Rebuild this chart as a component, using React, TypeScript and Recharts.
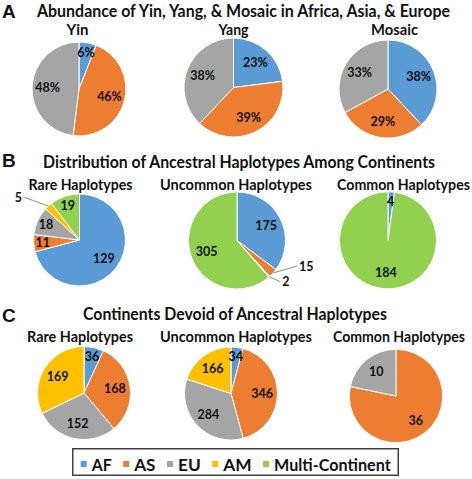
import React from 'react';
import { PieChart, Pie, Cell, Legend } from 'recharts';

// ---------- DATA ----------
const CONTINENTS = ['AF', 'AS', 'EU', 'AM', 'Multi-Continent'];

const PANEL_A_CATEGORIES = ['AF', 'AS', 'EU'];
const YIN_PCT = [6, 46, 48];
const YANG_PCT = [23, 39, 38];
const MOSAIC_PCT = [38, 29, 33];

const PANEL_B_CATEGORIES = ['AF', 'AS', 'EU', 'AM', 'Multi-Continent'];
const B_RARE = [129, 11, 18, 5, 19];
const B_UNCOMMON = [175, 15, 2, 0, 305];
const B_COMMON = [4, 0, 0, 0, 184];

const PANEL_C_CATEGORIES = ['AF', 'AS', 'EU', 'AM'];
const C_RARE = [36, 168, 152, 169];
const C_UNCOMMON = [34, 346, 284, 166];
const C_COMMON = [0, 36, 10, 0];

const PANEL_LETTERS = ['A', 'B', 'C'];
const PANEL_TITLES = [
  'Abundance of Yin, Yang, & Mosaic in Africa, Asia, & Europe',
  'Distribution of Ancestral Haplotypes Among Continents',
  'Continents Devoid of Ancestral Haplotypes',
];
const A_SUBTITLES = ['Yin', 'Yang', 'Mosaic'];
const BC_SUBTITLES = ['Rare Haplotypes', 'Uncommon Haplotypes', 'Common Haplotypes'];

// ---------- STYLE / LAYOUT ----------
const COLORS: Record<string, string> = {
  AF: '#5B9BD5',
  AS: '#ED7D31',
  EU: '#A5A5A5',
  AM: '#FFC000',
  'Multi-Continent': '#92D050',
};
const FONT = "Lato, 'Liberation Sans', sans-serif";
const TEXT_COLOR = '#111';

type PieCfg = {
  id: string;
  cats: string[];
  values: number[];
  suffix: string;
  cx: number;
  cy: number;
  r: number;
  subtitle: string;
  sx: number; // subtitle left
  sw: number; // subtitle width
  sy: number; // subtitle baseline
  fs: number; // subtitle font size
};

const PIES: PieCfg[] = [
  { id: 'yin', cats: PANEL_A_CATEGORIES, values: YIN_PCT, suffix: '%', cx: 79, cy: 89, r: 47, subtitle: A_SUBTITLES[0], sx: 66.5, sw: 22, sy: 35, fs: 15 },
  { id: 'yang', cats: PANEL_A_CATEGORIES, values: YANG_PCT, suffix: '%', cx: 233.5, cy: 87.5, r: 49.5, subtitle: A_SUBTITLES[1], sx: 218.5, sw: 30, sy: 35, fs: 15 },
  { id: 'mosaic', cats: PANEL_A_CATEGORIES, values: MOSAIC_PCT, suffix: '%', cx: 388, cy: 89, r: 49, subtitle: A_SUBTITLES[2], sx: 371, sw: 47, sy: 35, fs: 15 },
  { id: 'bRare', cats: PANEL_B_CATEGORIES, values: B_RARE, suffix: '', cx: 79.5, cy: 240, r: 46, subtitle: BC_SUBTITLES[0], sx: 28.5, sw: 104, sy: 190, fs: 14.5 },
  { id: 'bUncommon', cats: PANEL_B_CATEGORIES, values: B_UNCOMMON, suffix: '', cx: 237, cy: 240.5, r: 48.5, subtitle: BC_SUBTITLES[1], sx: 160, sw: 152, sy: 190, fs: 14.5 },
  { id: 'bCommon', cats: PANEL_B_CATEGORIES, values: B_COMMON, suffix: '', cx: 388, cy: 240.3, r: 48.5, subtitle: BC_SUBTITLES[2], sx: 337, sw: 133, sy: 190, fs: 14.5 },
  { id: 'cRare', cats: PANEL_C_CATEGORIES, values: C_RARE, suffix: '', cx: 84, cy: 393, r: 46.5, subtitle: BC_SUBTITLES[0], sx: 27, sw: 106, sy: 342, fs: 14.5 },
  { id: 'cUncommon', cats: PANEL_C_CATEGORIES, values: C_UNCOMMON, suffix: '', cx: 231, cy: 393.5, r: 46.5, subtitle: BC_SUBTITLES[1], sx: 160, sw: 152, sy: 342, fs: 14.5 },
  { id: 'cCommon', cats: PANEL_C_CATEGORIES, values: C_COMMON, suffix: '', cx: 396, cy: 396, r: 46.7, subtitle: BC_SUBTITLES[2], sx: 333, sw: 132, sy: 342, fs: 14.5 },
];

const HEADERS = [
  { letterY: 18, titleX: 37, titleW: 413, titleY: 17 },
  { letterY: 167, titleX: 43, titleW: 392, titleY: 168 },
  { letterY: 322, titleX: 83, titleW: 304, titleY: 320 },
];

// labels drawn outside the pie with a leader line: offset of the line end from the slice edge
const OUTSIDE_LABELS: Record<string, { dx: number; dy: number; anchor: 'start' | 'end' }> = {
  'bRare:AM': { dx: -24.5, dy: -9, anchor: 'end' },
  'bUncommon:AS': { dx: 24, dy: -7, anchor: 'start' },
  'bUncommon:EU': { dx: 11, dy: 5, anchor: 'start' },
};

const LEGEND_BOX = { left: 72, top: 448, width: 327, height: 28 };
const LEGEND_TEXT_WIDTHS = [20, 21.3, 22.7, 28.4, 116.6];

const RAD = Math.PI / 180;

function makeLabel(pie: PieCfg) {
  return (props: any) => {
    const { cx, cy, midAngle, outerRadius, percent, value } = props;
    const name = (props.payload && props.payload.name) || props.name;
    if (!value) return null;
    const cos = Math.cos(-midAngle * RAD);
    const sin = Math.sin(-midAngle * RAD);
    const text = `${value}${pie.suffix}`;
    const out = OUTSIDE_LABELS[`${pie.id}:${name}`];
    const textStyle = { fontFamily: FONT, fontWeight: 700, fontSize: 12.5, fill: TEXT_COLOR };
    if (out) {
      const ex = cx + outerRadius * cos;
      const ey = cy + outerRadius * sin;
      const lx = ex + out.dx;
      const ly = ey + out.dy;
      const tx = out.anchor === 'end' ? lx - 2 : lx + 2;
      return (
        <g>
          <line x1={ex} y1={ey} x2={lx} y2={ly} stroke="#8c8c8c" strokeWidth={1} />
          <text x={tx} y={ly} textAnchor={out.anchor} dominantBaseline="central" style={textStyle}>
            {text}
          </text>
        </g>
      );
    }
    const f = percent < 0.12 ? 0.8 : 0.67;
    const x = cx + outerRadius * f * cos;
    const y = cy + outerRadius * f * sin;
    return (
      <text x={x} y={y} textAnchor="middle" dominantBaseline="central" style={textStyle}>
        {text}
      </text>
    );
  };
}

function renderLegend() {
  let x = 8.7;
  const items = CONTINENTS.map((c, i) => {
    const sq = x;
    const tx = sq + 11;
    const w = LEGEND_TEXT_WIDTHS[i];
    x = tx + w + 11.5;
    return (
      <g key={c}>
        <rect x={sq} y={13} width={6} height={6} fill={COLORS[c]} />
        <text
          x={tx}
          y={23}
          textLength={w}
          lengthAdjust="spacingAndGlyphs"
          style={{ fontFamily: FONT, fontWeight: 700, fontSize: 17.5, fill: TEXT_COLOR }}
        >
          {c}
        </text>
      </g>
    );
  });
  return (
    <svg width={LEGEND_BOX.width} height={LEGEND_BOX.height} style={{ display: 'block' }}>
      <rect
        x={0.75}
        y={0.75}
        width={LEGEND_BOX.width - 1.5}
        height={LEGEND_BOX.height - 1.5}
        fill="#fff"
        stroke="#404040"
        strokeWidth={1.5}
      />
      {items}
    </svg>
  );
}

export default function App() {
  return (
    <div style={{ position: 'absolute', left: 0, top: 0, width: 472, height: 479, background: '#fff' }}>
      <PieChart width={472} height={479} margin={{ top: 0, right: 0, bottom: 0, left: 0 }}>
        {PIES.map((p) => {
          const rows = p.cats
            .map((name, i) => ({ name, value: p.values[i] }))
            .filter((d) => d.value > 0);
          return (
            <Pie
              key={p.id}
              data={rows}
              dataKey="value"
              nameKey="name"
              cx={p.cx}
              cy={p.cy}
              outerRadius={p.r}
              innerRadius={0}
              startAngle={90}
              endAngle={-270}
              stroke="#ffffff"
              strokeWidth={1}
              isAnimationActive={false}
              label={makeLabel(p)}
              labelLine={false}
            >
              {rows.map((d) => (
                <Cell key={d.name} fill={COLORS[d.name]} />
              ))}
            </Pie>
          );
        })}
        <Legend
          content={renderLegend}
          wrapperStyle={{
            position: 'absolute',
            left: LEGEND_BOX.left,
            top: LEGEND_BOX.top,
            width: LEGEND_BOX.width,
            height: LEGEND_BOX.height,
          }}
        />
      </PieChart>
      <svg
        width={472}
        height={479}
        style={{ position: 'absolute', left: 0, top: 0, pointerEvents: 'none' }}
      >
        {HEADERS.map((h, i) => (
          <g key={PANEL_LETTERS[i]}>
            <text
              x={2}
              y={h.letterY}
              style={{ fontFamily: "'Liberation Sans', Arial, sans-serif", fontWeight: 700, fontSize: 19, fill: TEXT_COLOR }}
            >
              {PANEL_LETTERS[i]}
            </text>
            <text
              x={h.titleX}
              y={h.titleY}
              textLength={h.titleW}
              lengthAdjust="spacingAndGlyphs"
              style={{ fontFamily: FONT, fontWeight: 700, fontSize: 16.5, fill: TEXT_COLOR }}
            >
              {PANEL_TITLES[i]}
            </text>
          </g>
        ))}
        {PIES.map((p) => (
          <text
            key={p.id + '-t'}
            x={p.sx}
            y={p.sy}
            textLength={p.sw}
            lengthAdjust="spacingAndGlyphs"
            style={{ fontFamily: FONT, fontWeight: 700, fontSize: p.fs, fill: TEXT_COLOR }}
          >
            {p.subtitle}
          </text>
        ))}
      </svg>
    </div>
  );
}
